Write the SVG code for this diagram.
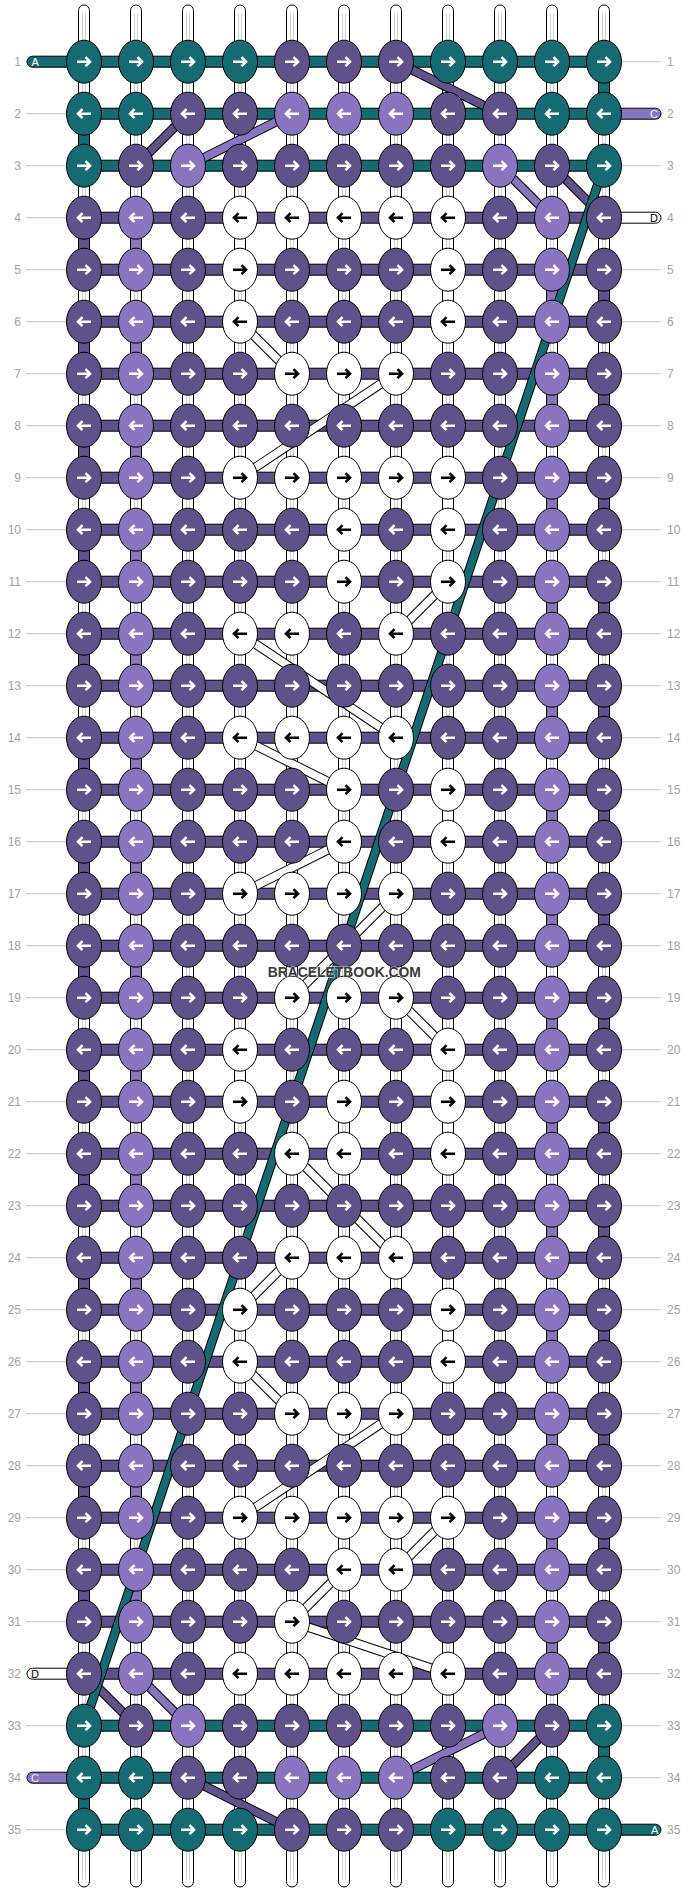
<svg xmlns="http://www.w3.org/2000/svg" width="688" height="1892" viewBox="0 0 688 1892">
<style>
text{font-family:"Liberation Sans",Arial,Helvetica,sans-serif}
.num{font-size:12px;fill:#a2a2a2}
.rl{stroke:#c4c4c4;stroke-width:1}
.wp{fill:#fff;stroke:#000;stroke-width:1}
.wl{fill:none;stroke:#cdcdcd;stroke-width:1}
.s{stroke:#000;stroke-width:1}
.t{fill:#156b71}
.p{fill:#5f5189}
.l{fill:#8a74c0}
.w{fill:#fff}
.fo{stroke:#000;stroke-width:9.5}
.ft{stroke:#156b71;stroke-width:7.5}
.fp{stroke:#5f5189;stroke-width:7.5}
.fl{stroke:#8a74c0;stroke-width:7.5}
.fw{stroke:#fff;stroke-width:7.5}
.aw{fill:none;stroke:#fff;stroke-width:2.6}
.ab{fill:none;stroke:#000;stroke-width:2.6}
.lab{font-size:11px}
.wm{font-size:15px;font-weight:bold;fill:#3a3a3a;stroke:#fff;stroke-opacity:.6;stroke-width:1.5;paint-order:stroke}
</style>
<defs>
<path id="ar" d="M-7,0H6M1.5,-4.5L6,0L1.5,4.5"/>
<path id="al" d="M7,0H-6M-1.5,-4.5L-6,0L-1.5,4.5"/>
<g id="tR"><ellipse rx="17.5" ry="21.5" class="t s"/><use href="#ar" class="aw"/></g>
<g id="tL"><ellipse rx="17.5" ry="21.5" class="t s"/><use href="#al" class="aw"/></g>
<g id="pR"><ellipse rx="17.5" ry="21.5" class="p s"/><use href="#ar" class="aw"/></g>
<g id="pL"><ellipse rx="17.5" ry="21.5" class="p s"/><use href="#al" class="aw"/></g>
<g id="lR"><ellipse rx="17.5" ry="21.5" class="l s"/><use href="#ar" class="aw"/></g>
<g id="lL"><ellipse rx="17.5" ry="21.5" class="l s"/><use href="#al" class="aw"/></g>
<g id="wR"><ellipse rx="17.5" ry="21.5" class="w s"/><use href="#ar" class="ab"/></g>
<g id="wL"><ellipse rx="17.5" ry="21.5" class="w s"/><use href="#al" class="ab"/></g>
</defs>
<rect width="688" height="1892" fill="#fff"/>
<g transform="translate(32,9.7)">
<g id="row-labels">
<path class="rl" d="M-6,52H40M584,52H629M-6,104H40M584,104H629M-6,156H40M584,156H629M-6,208H40M584,208H629M-6,260H40M584,260H629M-6,312H40M584,312H629M-6,364H40M584,364H629M-6,416H40M584,416H629M-6,468H40M584,468H629M-6,520H40M584,520H629M-6,572H40M584,572H629M-6,624H40M584,624H629M-6,676H40M584,676H629M-6,728H40M584,728H629M-6,780H40M584,780H629M-6,832H40M584,832H629M-6,884H40M584,884H629M-6,936H40M584,936H629M-6,988H40M584,988H629M-6,1040H40M584,1040H629M-6,1092H40M584,1092H629M-6,1144H40M584,1144H629M-6,1196H40M584,1196H629M-6,1248H40M584,1248H629M-6,1300H40M584,1300H629M-6,1352H40M584,1352H629M-6,1404H40M584,1404H629M-6,1456H40M584,1456H629M-6,1508H40M584,1508H629M-6,1560H40M584,1560H629M-6,1612H40M584,1612H629M-6,1664H40M584,1664H629M-6,1716H40M584,1716H629M-6,1768H40M584,1768H629M-6,1820H40M584,1820H629"/>
<g class="num" text-anchor="end">
<text x="-11" y="56.3">1</text><text x="-11" y="108.3">2</text><text x="-11" y="160.3">3</text><text x="-11" y="212.3">4</text><text x="-11" y="264.3">5</text><text x="-11" y="316.3">6</text><text x="-11" y="368.3">7</text><text x="-11" y="420.3">8</text><text x="-11" y="472.3">9</text><text x="-11" y="524.3">10</text><text x="-11" y="576.3">11</text><text x="-11" y="628.3">12</text><text x="-11" y="680.3">13</text><text x="-11" y="732.3">14</text><text x="-11" y="784.3">15</text><text x="-11" y="836.3">16</text><text x="-11" y="888.3">17</text><text x="-11" y="940.3">18</text><text x="-11" y="992.3">19</text><text x="-11" y="1044.3">20</text><text x="-11" y="1096.3">21</text><text x="-11" y="1148.3">22</text><text x="-11" y="1200.3">23</text><text x="-11" y="1252.3">24</text><text x="-11" y="1304.3">25</text><text x="-11" y="1356.3">26</text><text x="-11" y="1408.3">27</text><text x="-11" y="1460.3">28</text><text x="-11" y="1512.3">29</text><text x="-11" y="1564.3">30</text><text x="-11" y="1616.3">31</text><text x="-11" y="1668.3">32</text><text x="-11" y="1720.3">33</text><text x="-11" y="1772.3">34</text><text x="-11" y="1824.3">35</text>
</g>
<g class="num">
<text x="635" y="56.3">1</text><text x="635" y="108.3">2</text><text x="635" y="160.3">3</text><text x="635" y="212.3">4</text><text x="635" y="264.3">5</text><text x="635" y="316.3">6</text><text x="635" y="368.3">7</text><text x="635" y="420.3">8</text><text x="635" y="472.3">9</text><text x="635" y="524.3">10</text><text x="635" y="576.3">11</text><text x="635" y="628.3">12</text><text x="635" y="680.3">13</text><text x="635" y="732.3">14</text><text x="635" y="784.3">15</text><text x="635" y="836.3">16</text><text x="635" y="888.3">17</text><text x="635" y="940.3">18</text><text x="635" y="992.3">19</text><text x="635" y="1044.3">20</text><text x="635" y="1096.3">21</text><text x="635" y="1148.3">22</text><text x="635" y="1200.3">23</text><text x="635" y="1252.3">24</text><text x="635" y="1304.3">25</text><text x="635" y="1356.3">26</text><text x="635" y="1408.3">27</text><text x="635" y="1460.3">28</text><text x="635" y="1512.3">29</text><text x="635" y="1564.3">30</text><text x="635" y="1616.3">31</text><text x="635" y="1668.3">32</text><text x="635" y="1720.3">33</text><text x="635" y="1772.3">34</text><text x="635" y="1824.3">35</text>
</g>
</g>
<g id="connectors">
<g id="warps">
<rect class="wp" x="46.5" y="-4.7" width="11" height="1882" rx="5.5"/>
<rect class="wp" x="98.5" y="-4.7" width="11" height="1882" rx="5.5"/>
<rect class="wp" x="150.5" y="-4.7" width="11" height="1882" rx="5.5"/>
<rect class="wp" x="202.5" y="-4.7" width="11" height="1882" rx="5.5"/>
<rect class="wp" x="254.5" y="-4.7" width="11" height="1882" rx="5.5"/>
<rect class="wp" x="306.5" y="-4.7" width="11" height="1882" rx="5.5"/>
<rect class="wp" x="358.5" y="-4.7" width="11" height="1882" rx="5.5"/>
<rect class="wp" x="410.5" y="-4.7" width="11" height="1882" rx="5.5"/>
<rect class="wp" x="462.5" y="-4.7" width="11" height="1882" rx="5.5"/>
<rect class="wp" x="514.5" y="-4.7" width="11" height="1882" rx="5.5"/>
<rect class="wp" x="566.5" y="-4.7" width="11" height="1882" rx="5.5"/>
<path class="wl" d="M50.5,3V1870M53.5,3V1870M102.5,3V1870M105.5,3V1870M154.5,3V1870M157.5,3V1870M206.5,3V1870M209.5,3V1870M258.5,3V1870M261.5,3V1870M310.5,3V1870M313.5,3V1870M362.5,3V1870M365.5,3V1870M414.5,3V1870M417.5,3V1870M466.5,3V1870M469.5,3V1870M518.5,3V1870M521.5,3V1870M570.5,3V1870M573.5,3V1870"/>
</g>
<g id="row-threads">
<rect class="t s" x="-5" y="46.5" width="577" height="11" rx="5.5"/>
<rect class="t s" x="52" y="98.5" width="520" height="11"/>
<rect class="l s" x="560" y="98.5" width="69" height="11" rx="5.5"/>
<rect class="t s" x="52" y="150.5" width="520" height="11"/>
<rect class="p s" x="52" y="202.5" width="520" height="11"/>
<rect class="w s" x="560" y="202.5" width="69" height="11" rx="5.5"/>
<rect class="p s" x="52" y="254.5" width="520" height="11"/>
<rect class="p s" x="52" y="306.5" width="520" height="11"/>
<rect class="p s" x="52" y="358.5" width="520" height="11"/>
<rect class="p s" x="52" y="410.5" width="520" height="11"/>
<rect class="p s" x="52" y="462.5" width="520" height="11"/>
<rect class="p s" x="52" y="514.5" width="520" height="11"/>
<rect class="p s" x="52" y="566.5" width="520" height="11"/>
<rect class="p s" x="52" y="618.5" width="520" height="11"/>
<rect class="p s" x="52" y="670.5" width="520" height="11"/>
<rect class="p s" x="52" y="722.5" width="520" height="11"/>
<rect class="p s" x="52" y="774.5" width="520" height="11"/>
<rect class="p s" x="52" y="826.5" width="520" height="11"/>
<rect class="p s" x="52" y="878.5" width="520" height="11"/>
<rect class="p s" x="52" y="930.5" width="520" height="11"/>
<rect class="p s" x="52" y="982.5" width="520" height="11"/>
<rect class="p s" x="52" y="1034.5" width="520" height="11"/>
<rect class="p s" x="52" y="1086.5" width="520" height="11"/>
<rect class="p s" x="52" y="1138.5" width="520" height="11"/>
<rect class="p s" x="52" y="1190.5" width="520" height="11"/>
<rect class="p s" x="52" y="1242.5" width="520" height="11"/>
<rect class="p s" x="52" y="1294.5" width="520" height="11"/>
<rect class="p s" x="52" y="1346.5" width="520" height="11"/>
<rect class="p s" x="52" y="1398.5" width="520" height="11"/>
<rect class="p s" x="52" y="1450.5" width="520" height="11"/>
<rect class="p s" x="52" y="1502.5" width="520" height="11"/>
<rect class="p s" x="52" y="1554.5" width="520" height="11"/>
<rect class="p s" x="52" y="1606.5" width="520" height="11"/>
<rect class="w s" x="-5" y="1658.5" width="65" height="11" rx="5.5"/>
<rect class="p s" x="52" y="1658.5" width="520" height="11"/>
<rect class="t s" x="52" y="1710.5" width="520" height="11"/>
<rect class="l s" x="-5" y="1762.5" width="65" height="11" rx="5.5"/>
<rect class="t s" x="52" y="1762.5" width="520" height="11"/>
<rect class="t s" x="52" y="1814.5" width="577" height="11" rx="5.5"/>
</g>
<g id="vertical-moves">
<rect class="t s" x="566.5" y="52" width="11" height="52"/>
<rect class="t s" x="46.5" y="104" width="11" height="52"/>
<rect class="t s" x="566.5" y="1716" width="11" height="52"/>
<rect class="t s" x="46.5" y="1768" width="11" height="52"/>
<rect class="p s" x="46.5" y="208" width="11" height="52"/><rect class="p s" x="46.5" y="312" width="11" height="52"/><rect class="p s" x="46.5" y="416" width="11" height="52"/><rect class="p s" x="46.5" y="520" width="11" height="52"/><rect class="p s" x="46.5" y="624" width="11" height="52"/><rect class="p s" x="46.5" y="728" width="11" height="52"/><rect class="p s" x="46.5" y="832" width="11" height="52"/><rect class="p s" x="46.5" y="936" width="11" height="52"/><rect class="p s" x="46.5" y="1040" width="11" height="52"/><rect class="p s" x="46.5" y="1144" width="11" height="52"/><rect class="p s" x="46.5" y="1248" width="11" height="52"/><rect class="p s" x="46.5" y="1352" width="11" height="52"/><rect class="p s" x="46.5" y="1456" width="11" height="52"/><rect class="p s" x="46.5" y="1560" width="11" height="52"/>
<rect class="l s" x="98.5" y="208" width="11" height="52"/><rect class="l s" x="98.5" y="312" width="11" height="52"/><rect class="l s" x="98.5" y="416" width="11" height="52"/><rect class="l s" x="98.5" y="520" width="11" height="52"/><rect class="l s" x="98.5" y="624" width="11" height="52"/><rect class="l s" x="98.5" y="728" width="11" height="52"/><rect class="l s" x="98.5" y="832" width="11" height="52"/><rect class="l s" x="98.5" y="936" width="11" height="52"/><rect class="l s" x="98.5" y="1040" width="11" height="52"/><rect class="l s" x="98.5" y="1144" width="11" height="52"/><rect class="l s" x="98.5" y="1248" width="11" height="52"/><rect class="l s" x="98.5" y="1352" width="11" height="52"/><rect class="l s" x="98.5" y="1456" width="11" height="52"/><rect class="l s" x="98.5" y="1560" width="11" height="52"/>
<rect class="p s" x="566.5" y="260" width="11" height="52"/><rect class="p s" x="566.5" y="364" width="11" height="52"/><rect class="p s" x="566.5" y="468" width="11" height="52"/><rect class="p s" x="566.5" y="572" width="11" height="52"/><rect class="p s" x="566.5" y="676" width="11" height="52"/><rect class="p s" x="566.5" y="780" width="11" height="52"/><rect class="p s" x="566.5" y="884" width="11" height="52"/><rect class="p s" x="566.5" y="988" width="11" height="52"/><rect class="p s" x="566.5" y="1092" width="11" height="52"/><rect class="p s" x="566.5" y="1196" width="11" height="52"/><rect class="p s" x="566.5" y="1300" width="11" height="52"/><rect class="p s" x="566.5" y="1404" width="11" height="52"/><rect class="p s" x="566.5" y="1508" width="11" height="52"/><rect class="p s" x="566.5" y="1612" width="11" height="52"/>
<rect class="l s" x="514.5" y="260" width="11" height="52"/><rect class="l s" x="514.5" y="364" width="11" height="52"/><rect class="l s" x="514.5" y="468" width="11" height="52"/><rect class="l s" x="514.5" y="572" width="11" height="52"/><rect class="l s" x="514.5" y="676" width="11" height="52"/><rect class="l s" x="514.5" y="780" width="11" height="52"/><rect class="l s" x="514.5" y="884" width="11" height="52"/><rect class="l s" x="514.5" y="988" width="11" height="52"/><rect class="l s" x="514.5" y="1092" width="11" height="52"/><rect class="l s" x="514.5" y="1196" width="11" height="52"/><rect class="l s" x="514.5" y="1300" width="11" height="52"/><rect class="l s" x="514.5" y="1404" width="11" height="52"/><rect class="l s" x="514.5" y="1508" width="11" height="52"/><rect class="l s" x="514.5" y="1612" width="11" height="52"/>
<rect class="w s" x="202.5" y="208" width="11" height="52"/><rect class="w s" x="410.5" y="260" width="11" height="52"/><rect class="w s" x="410.5" y="468" width="11" height="52"/><rect class="w s" x="306.5" y="520" width="11" height="52"/><rect class="w s" x="410.5" y="780" width="11" height="52"/><rect class="w s" x="202.5" y="1040" width="11" height="52"/><rect class="w s" x="410.5" y="1092" width="11" height="52"/><rect class="w s" x="410.5" y="1300" width="11" height="52"/>
</g>
<g id="floats">
<g><line class="fo" x1="364" y1="52" x2="468" y2="104"/><line class="fp" x1="364" y1="52" x2="468" y2="104"/></g>
<g><line class="fo" x1="156" y1="104" x2="104" y2="156"/><line class="fp" x1="156" y1="104" x2="104" y2="156"/></g>
<g><line class="fo" x1="260" y1="104" x2="156" y2="156"/><line class="fl" x1="260" y1="104" x2="156" y2="156"/></g>
<g><line class="fo" x1="468" y1="156" x2="520" y2="208"/><line class="fl" x1="468" y1="156" x2="520" y2="208"/></g>
<g><line class="fo" x1="520" y1="156" x2="572" y2="208"/><line class="fp" x1="520" y1="156" x2="572" y2="208"/></g>
<g><line class="fo" x1="208" y1="312" x2="260" y2="364"/><line class="fw" x1="208" y1="312" x2="260" y2="364"/></g>
<g><line class="fo" x1="364" y1="364" x2="208" y2="468"/><line class="fw" x1="364" y1="364" x2="208" y2="468"/></g>
<g><line class="fo" x1="416" y1="572" x2="364" y2="624"/><line class="fw" x1="416" y1="572" x2="364" y2="624"/></g>
<g><line class="fo" x1="208" y1="624" x2="364" y2="728"/><line class="fw" x1="208" y1="624" x2="364" y2="728"/></g>
<g><line class="fo" x1="208" y1="728" x2="312" y2="780"/><line class="fw" x1="208" y1="728" x2="312" y2="780"/></g>
<g><line class="fo" x1="312" y1="832" x2="208" y2="884"/><line class="fw" x1="312" y1="832" x2="208" y2="884"/></g>
<g><line class="fo" x1="364" y1="884" x2="260" y2="988"/><line class="fw" x1="364" y1="884" x2="260" y2="988"/></g>
<g><line class="fo" x1="364" y1="988" x2="416" y2="1040"/><line class="fw" x1="364" y1="988" x2="416" y2="1040"/></g>
<g><line class="fo" x1="260" y1="1144" x2="364" y2="1248"/><line class="fw" x1="260" y1="1144" x2="364" y2="1248"/></g>
<g><line class="fo" x1="260" y1="1248" x2="208" y2="1300"/><line class="fw" x1="260" y1="1248" x2="208" y2="1300"/></g>
<g><line class="fo" x1="208" y1="1352" x2="260" y2="1404"/><line class="fw" x1="208" y1="1352" x2="260" y2="1404"/></g>
<g><line class="fo" x1="364" y1="1404" x2="208" y2="1508"/><line class="fw" x1="364" y1="1404" x2="208" y2="1508"/></g>
<g><line class="fo" x1="416" y1="1508" x2="364" y2="1560"/><line class="fw" x1="416" y1="1508" x2="364" y2="1560"/></g>
<g><line class="fo" x1="312" y1="1560" x2="260" y2="1612"/><line class="fw" x1="312" y1="1560" x2="260" y2="1612"/></g>
<g><line class="fo" x1="260" y1="1612" x2="416" y2="1664"/><line class="fw" x1="260" y1="1612" x2="416" y2="1664"/></g>
<g><line class="fo" x1="52" y1="1664" x2="104" y2="1716"/><line class="fp" x1="52" y1="1664" x2="104" y2="1716"/></g>
<g><line class="fo" x1="104" y1="1664" x2="156" y2="1716"/><line class="fl" x1="104" y1="1664" x2="156" y2="1716"/></g>
<g><line class="fo" x1="468" y1="1716" x2="364" y2="1768"/><line class="fl" x1="468" y1="1716" x2="364" y2="1768"/></g>
<g><line class="fo" x1="520" y1="1716" x2="468" y2="1768"/><line class="fp" x1="520" y1="1716" x2="468" y2="1768"/></g>
<g><line class="fo" x1="156" y1="1768" x2="260" y2="1820"/><line class="fp" x1="156" y1="1768" x2="260" y2="1820"/></g>
<g><line class="fo" x1="572" y1="156" x2="52" y2="1716"/><line class="ft" x1="572" y1="156" x2="52" y2="1716"/></g>
</g>
</g>
<g id="thread-ends" class="lab">
<text x="-0.5" y="56.3" fill="#fff">A</text>
<text x="618" y="108.3" fill="#efeaff">C</text>
<text x="618" y="212.3" fill="#000">D</text>
<text x="-1" y="1668.3" fill="#000">D</text>
<text x="-1" y="1772.3" fill="#f4f0ff">C</text>
<text x="619" y="1824.3" fill="#eaffff">A</text>
</g>
<g id="nodes">
<g id="row1" transform="translate(0,52)"><g id="n1-1"><use href="#tR" x="52"/></g><g id="n1-2"><use href="#tR" x="104"/></g><g id="n1-3"><use href="#tR" x="156"/></g><g id="n1-4"><use href="#tR" x="208"/></g><g id="n1-5"><use href="#pR" x="260"/></g><g id="n1-6"><use href="#pR" x="312"/></g><g id="n1-7"><use href="#pR" x="364"/></g><g id="n1-8"><use href="#tR" x="416"/></g><g id="n1-9"><use href="#tR" x="468"/></g><g id="n1-10"><use href="#tR" x="520"/></g><g id="n1-11"><use href="#tR" x="572"/></g></g>
<g id="row2" transform="translate(0,104)"><g id="n2-1"><use href="#tL" x="52"/></g><g id="n2-2"><use href="#tL" x="104"/></g><g id="n2-3"><use href="#pL" x="156"/></g><g id="n2-4"><use href="#pL" x="208"/></g><g id="n2-5"><use href="#lL" x="260"/></g><g id="n2-6"><use href="#lL" x="312"/></g><g id="n2-7"><use href="#lL" x="364"/></g><g id="n2-8"><use href="#pL" x="416"/></g><g id="n2-9"><use href="#pL" x="468"/></g><g id="n2-10"><use href="#tL" x="520"/></g><g id="n2-11"><use href="#tL" x="572"/></g></g>
<g id="row3" transform="translate(0,156)"><g id="n3-1"><use href="#tR" x="52"/></g><g id="n3-2"><use href="#pR" x="104"/></g><g id="n3-3"><use href="#lR" x="156"/></g><g id="n3-4"><use href="#pR" x="208"/></g><g id="n3-5"><use href="#pR" x="260"/></g><g id="n3-6"><use href="#pR" x="312"/></g><g id="n3-7"><use href="#pR" x="364"/></g><g id="n3-8"><use href="#pR" x="416"/></g><g id="n3-9"><use href="#lR" x="468"/></g><g id="n3-10"><use href="#pR" x="520"/></g><g id="n3-11"><use href="#tR" x="572"/></g></g>
<g id="row4" transform="translate(0,208)"><g id="n4-1"><use href="#pL" x="52"/></g><g id="n4-2"><use href="#lL" x="104"/></g><g id="n4-3"><use href="#pL" x="156"/></g><g id="n4-4"><use href="#wL" x="208"/></g><g id="n4-5"><use href="#wL" x="260"/></g><g id="n4-6"><use href="#wL" x="312"/></g><g id="n4-7"><use href="#wL" x="364"/></g><g id="n4-8"><use href="#wL" x="416"/></g><g id="n4-9"><use href="#pL" x="468"/></g><g id="n4-10"><use href="#lL" x="520"/></g><g id="n4-11"><use href="#pL" x="572"/></g></g>
<g id="row5" transform="translate(0,260)"><g id="n5-1"><use href="#pR" x="52"/></g><g id="n5-2"><use href="#lR" x="104"/></g><g id="n5-3"><use href="#pR" x="156"/></g><g id="n5-4"><use href="#wR" x="208"/></g><g id="n5-5"><use href="#pR" x="260"/></g><g id="n5-6"><use href="#pR" x="312"/></g><g id="n5-7"><use href="#pR" x="364"/></g><g id="n5-8"><use href="#wR" x="416"/></g><g id="n5-9"><use href="#pR" x="468"/></g><g id="n5-10"><use href="#lR" x="520"/></g><g id="n5-11"><use href="#pR" x="572"/></g></g>
<g id="row6" transform="translate(0,312)"><g id="n6-1"><use href="#pL" x="52"/></g><g id="n6-2"><use href="#lL" x="104"/></g><g id="n6-3"><use href="#pL" x="156"/></g><g id="n6-4"><use href="#wL" x="208"/></g><g id="n6-5"><use href="#pL" x="260"/></g><g id="n6-6"><use href="#pL" x="312"/></g><g id="n6-7"><use href="#pL" x="364"/></g><g id="n6-8"><use href="#wL" x="416"/></g><g id="n6-9"><use href="#pL" x="468"/></g><g id="n6-10"><use href="#lL" x="520"/></g><g id="n6-11"><use href="#pL" x="572"/></g></g>
<g id="row7" transform="translate(0,364)"><g id="n7-1"><use href="#pR" x="52"/></g><g id="n7-2"><use href="#lR" x="104"/></g><g id="n7-3"><use href="#pR" x="156"/></g><g id="n7-4"><use href="#pR" x="208"/></g><g id="n7-5"><use href="#wR" x="260"/></g><g id="n7-6"><use href="#wR" x="312"/></g><g id="n7-7"><use href="#wR" x="364"/></g><g id="n7-8"><use href="#pR" x="416"/></g><g id="n7-9"><use href="#pR" x="468"/></g><g id="n7-10"><use href="#lR" x="520"/></g><g id="n7-11"><use href="#pR" x="572"/></g></g>
<g id="row8" transform="translate(0,416)"><g id="n8-1"><use href="#pL" x="52"/></g><g id="n8-2"><use href="#lL" x="104"/></g><g id="n8-3"><use href="#pL" x="156"/></g><g id="n8-4"><use href="#pL" x="208"/></g><g id="n8-5"><use href="#pL" x="260"/></g><g id="n8-6"><use href="#pL" x="312"/></g><g id="n8-7"><use href="#pL" x="364"/></g><g id="n8-8"><use href="#pL" x="416"/></g><g id="n8-9"><use href="#pL" x="468"/></g><g id="n8-10"><use href="#lL" x="520"/></g><g id="n8-11"><use href="#pL" x="572"/></g></g>
<g id="row9" transform="translate(0,468)"><g id="n9-1"><use href="#pR" x="52"/></g><g id="n9-2"><use href="#lR" x="104"/></g><g id="n9-3"><use href="#pR" x="156"/></g><g id="n9-4"><use href="#wR" x="208"/></g><g id="n9-5"><use href="#wR" x="260"/></g><g id="n9-6"><use href="#wR" x="312"/></g><g id="n9-7"><use href="#wR" x="364"/></g><g id="n9-8"><use href="#wR" x="416"/></g><g id="n9-9"><use href="#pR" x="468"/></g><g id="n9-10"><use href="#lR" x="520"/></g><g id="n9-11"><use href="#pR" x="572"/></g></g>
<g id="row10" transform="translate(0,520)"><g id="n10-1"><use href="#pL" x="52"/></g><g id="n10-2"><use href="#lL" x="104"/></g><g id="n10-3"><use href="#pL" x="156"/></g><g id="n10-4"><use href="#pL" x="208"/></g><g id="n10-5"><use href="#pL" x="260"/></g><g id="n10-6"><use href="#wL" x="312"/></g><g id="n10-7"><use href="#pL" x="364"/></g><g id="n10-8"><use href="#wL" x="416"/></g><g id="n10-9"><use href="#pL" x="468"/></g><g id="n10-10"><use href="#lL" x="520"/></g><g id="n10-11"><use href="#pL" x="572"/></g></g>
<g id="row11" transform="translate(0,572)"><g id="n11-1"><use href="#pR" x="52"/></g><g id="n11-2"><use href="#lR" x="104"/></g><g id="n11-3"><use href="#pR" x="156"/></g><g id="n11-4"><use href="#pR" x="208"/></g><g id="n11-5"><use href="#pR" x="260"/></g><g id="n11-6"><use href="#wR" x="312"/></g><g id="n11-7"><use href="#pR" x="364"/></g><g id="n11-8"><use href="#wR" x="416"/></g><g id="n11-9"><use href="#pR" x="468"/></g><g id="n11-10"><use href="#lR" x="520"/></g><g id="n11-11"><use href="#pR" x="572"/></g></g>
<g id="row12" transform="translate(0,624)"><g id="n12-1"><use href="#pL" x="52"/></g><g id="n12-2"><use href="#lL" x="104"/></g><g id="n12-3"><use href="#pL" x="156"/></g><g id="n12-4"><use href="#wL" x="208"/></g><g id="n12-5"><use href="#wL" x="260"/></g><g id="n12-6"><use href="#pL" x="312"/></g><g id="n12-7"><use href="#wL" x="364"/></g><g id="n12-8"><use href="#pL" x="416"/></g><g id="n12-9"><use href="#pL" x="468"/></g><g id="n12-10"><use href="#lL" x="520"/></g><g id="n12-11"><use href="#pL" x="572"/></g></g>
<g id="row13" transform="translate(0,676)"><g id="n13-1"><use href="#pR" x="52"/></g><g id="n13-2"><use href="#lR" x="104"/></g><g id="n13-3"><use href="#pR" x="156"/></g><g id="n13-4"><use href="#pR" x="208"/></g><g id="n13-5"><use href="#pR" x="260"/></g><g id="n13-6"><use href="#pR" x="312"/></g><g id="n13-7"><use href="#pR" x="364"/></g><g id="n13-8"><use href="#pR" x="416"/></g><g id="n13-9"><use href="#pR" x="468"/></g><g id="n13-10"><use href="#lR" x="520"/></g><g id="n13-11"><use href="#pR" x="572"/></g></g>
<g id="row14" transform="translate(0,728)"><g id="n14-1"><use href="#pL" x="52"/></g><g id="n14-2"><use href="#lL" x="104"/></g><g id="n14-3"><use href="#pL" x="156"/></g><g id="n14-4"><use href="#wL" x="208"/></g><g id="n14-5"><use href="#wL" x="260"/></g><g id="n14-6"><use href="#wL" x="312"/></g><g id="n14-7"><use href="#wL" x="364"/></g><g id="n14-8"><use href="#pL" x="416"/></g><g id="n14-9"><use href="#pL" x="468"/></g><g id="n14-10"><use href="#lL" x="520"/></g><g id="n14-11"><use href="#pL" x="572"/></g></g>
<g id="row15" transform="translate(0,780)"><g id="n15-1"><use href="#pR" x="52"/></g><g id="n15-2"><use href="#lR" x="104"/></g><g id="n15-3"><use href="#pR" x="156"/></g><g id="n15-4"><use href="#pR" x="208"/></g><g id="n15-5"><use href="#pR" x="260"/></g><g id="n15-6"><use href="#wR" x="312"/></g><g id="n15-7"><use href="#pR" x="364"/></g><g id="n15-8"><use href="#wR" x="416"/></g><g id="n15-9"><use href="#pR" x="468"/></g><g id="n15-10"><use href="#lR" x="520"/></g><g id="n15-11"><use href="#pR" x="572"/></g></g>
<g id="row16" transform="translate(0,832)"><g id="n16-1"><use href="#pL" x="52"/></g><g id="n16-2"><use href="#lL" x="104"/></g><g id="n16-3"><use href="#pL" x="156"/></g><g id="n16-4"><use href="#pL" x="208"/></g><g id="n16-5"><use href="#pL" x="260"/></g><g id="n16-6"><use href="#wL" x="312"/></g><g id="n16-7"><use href="#pL" x="364"/></g><g id="n16-8"><use href="#wL" x="416"/></g><g id="n16-9"><use href="#pL" x="468"/></g><g id="n16-10"><use href="#lL" x="520"/></g><g id="n16-11"><use href="#pL" x="572"/></g></g>
<g id="row17" transform="translate(0,884)"><g id="n17-1"><use href="#pR" x="52"/></g><g id="n17-2"><use href="#lR" x="104"/></g><g id="n17-3"><use href="#pR" x="156"/></g><g id="n17-4"><use href="#wR" x="208"/></g><g id="n17-5"><use href="#wR" x="260"/></g><g id="n17-6"><use href="#wR" x="312"/></g><g id="n17-7"><use href="#wR" x="364"/></g><g id="n17-8"><use href="#pR" x="416"/></g><g id="n17-9"><use href="#pR" x="468"/></g><g id="n17-10"><use href="#lR" x="520"/></g><g id="n17-11"><use href="#pR" x="572"/></g></g>
<g id="row18" transform="translate(0,936)"><g id="n18-1"><use href="#pL" x="52"/></g><g id="n18-2"><use href="#lL" x="104"/></g><g id="n18-3"><use href="#pL" x="156"/></g><g id="n18-4"><use href="#pL" x="208"/></g><g id="n18-5"><use href="#pL" x="260"/></g><g id="n18-6"><use href="#pL" x="312"/></g><g id="n18-7"><use href="#pL" x="364"/></g><g id="n18-8"><use href="#pL" x="416"/></g><g id="n18-9"><use href="#pL" x="468"/></g><g id="n18-10"><use href="#lL" x="520"/></g><g id="n18-11"><use href="#pL" x="572"/></g></g>
<g id="row19" transform="translate(0,988)"><g id="n19-1"><use href="#pR" x="52"/></g><g id="n19-2"><use href="#lR" x="104"/></g><g id="n19-3"><use href="#pR" x="156"/></g><g id="n19-4"><use href="#pR" x="208"/></g><g id="n19-5"><use href="#wR" x="260"/></g><g id="n19-6"><use href="#wR" x="312"/></g><g id="n19-7"><use href="#wR" x="364"/></g><g id="n19-8"><use href="#pR" x="416"/></g><g id="n19-9"><use href="#pR" x="468"/></g><g id="n19-10"><use href="#lR" x="520"/></g><g id="n19-11"><use href="#pR" x="572"/></g></g>
<g id="row20" transform="translate(0,1040)"><g id="n20-1"><use href="#pL" x="52"/></g><g id="n20-2"><use href="#lL" x="104"/></g><g id="n20-3"><use href="#pL" x="156"/></g><g id="n20-4"><use href="#wL" x="208"/></g><g id="n20-5"><use href="#pL" x="260"/></g><g id="n20-6"><use href="#pL" x="312"/></g><g id="n20-7"><use href="#pL" x="364"/></g><g id="n20-8"><use href="#wL" x="416"/></g><g id="n20-9"><use href="#pL" x="468"/></g><g id="n20-10"><use href="#lL" x="520"/></g><g id="n20-11"><use href="#pL" x="572"/></g></g>
<g id="row21" transform="translate(0,1092)"><g id="n21-1"><use href="#pR" x="52"/></g><g id="n21-2"><use href="#lR" x="104"/></g><g id="n21-3"><use href="#pR" x="156"/></g><g id="n21-4"><use href="#wR" x="208"/></g><g id="n21-5"><use href="#pR" x="260"/></g><g id="n21-6"><use href="#wR" x="312"/></g><g id="n21-7"><use href="#pR" x="364"/></g><g id="n21-8"><use href="#wR" x="416"/></g><g id="n21-9"><use href="#pR" x="468"/></g><g id="n21-10"><use href="#lR" x="520"/></g><g id="n21-11"><use href="#pR" x="572"/></g></g>
<g id="row22" transform="translate(0,1144)"><g id="n22-1"><use href="#pL" x="52"/></g><g id="n22-2"><use href="#lL" x="104"/></g><g id="n22-3"><use href="#pL" x="156"/></g><g id="n22-4"><use href="#pL" x="208"/></g><g id="n22-5"><use href="#wL" x="260"/></g><g id="n22-6"><use href="#wL" x="312"/></g><g id="n22-7"><use href="#pL" x="364"/></g><g id="n22-8"><use href="#wL" x="416"/></g><g id="n22-9"><use href="#pL" x="468"/></g><g id="n22-10"><use href="#lL" x="520"/></g><g id="n22-11"><use href="#pL" x="572"/></g></g>
<g id="row23" transform="translate(0,1196)"><g id="n23-1"><use href="#pR" x="52"/></g><g id="n23-2"><use href="#lR" x="104"/></g><g id="n23-3"><use href="#pR" x="156"/></g><g id="n23-4"><use href="#pR" x="208"/></g><g id="n23-5"><use href="#pR" x="260"/></g><g id="n23-6"><use href="#pR" x="312"/></g><g id="n23-7"><use href="#pR" x="364"/></g><g id="n23-8"><use href="#pR" x="416"/></g><g id="n23-9"><use href="#pR" x="468"/></g><g id="n23-10"><use href="#lR" x="520"/></g><g id="n23-11"><use href="#pR" x="572"/></g></g>
<g id="row24" transform="translate(0,1248)"><g id="n24-1"><use href="#pL" x="52"/></g><g id="n24-2"><use href="#lL" x="104"/></g><g id="n24-3"><use href="#pL" x="156"/></g><g id="n24-4"><use href="#pL" x="208"/></g><g id="n24-5"><use href="#wL" x="260"/></g><g id="n24-6"><use href="#wL" x="312"/></g><g id="n24-7"><use href="#wL" x="364"/></g><g id="n24-8"><use href="#pL" x="416"/></g><g id="n24-9"><use href="#pL" x="468"/></g><g id="n24-10"><use href="#lL" x="520"/></g><g id="n24-11"><use href="#pL" x="572"/></g></g>
<g id="row25" transform="translate(0,1300)"><g id="n25-1"><use href="#pR" x="52"/></g><g id="n25-2"><use href="#lR" x="104"/></g><g id="n25-3"><use href="#pR" x="156"/></g><g id="n25-4"><use href="#wR" x="208"/></g><g id="n25-5"><use href="#pR" x="260"/></g><g id="n25-6"><use href="#pR" x="312"/></g><g id="n25-7"><use href="#pR" x="364"/></g><g id="n25-8"><use href="#wR" x="416"/></g><g id="n25-9"><use href="#pR" x="468"/></g><g id="n25-10"><use href="#lR" x="520"/></g><g id="n25-11"><use href="#pR" x="572"/></g></g>
<g id="row26" transform="translate(0,1352)"><g id="n26-1"><use href="#pL" x="52"/></g><g id="n26-2"><use href="#lL" x="104"/></g><g id="n26-3"><use href="#pL" x="156"/></g><g id="n26-4"><use href="#wL" x="208"/></g><g id="n26-5"><use href="#pL" x="260"/></g><g id="n26-6"><use href="#pL" x="312"/></g><g id="n26-7"><use href="#pL" x="364"/></g><g id="n26-8"><use href="#wL" x="416"/></g><g id="n26-9"><use href="#pL" x="468"/></g><g id="n26-10"><use href="#lL" x="520"/></g><g id="n26-11"><use href="#pL" x="572"/></g></g>
<g id="row27" transform="translate(0,1404)"><g id="n27-1"><use href="#pR" x="52"/></g><g id="n27-2"><use href="#lR" x="104"/></g><g id="n27-3"><use href="#pR" x="156"/></g><g id="n27-4"><use href="#pR" x="208"/></g><g id="n27-5"><use href="#wR" x="260"/></g><g id="n27-6"><use href="#wR" x="312"/></g><g id="n27-7"><use href="#wR" x="364"/></g><g id="n27-8"><use href="#pR" x="416"/></g><g id="n27-9"><use href="#pR" x="468"/></g><g id="n27-10"><use href="#lR" x="520"/></g><g id="n27-11"><use href="#pR" x="572"/></g></g>
<g id="row28" transform="translate(0,1456)"><g id="n28-1"><use href="#pL" x="52"/></g><g id="n28-2"><use href="#lL" x="104"/></g><g id="n28-3"><use href="#pL" x="156"/></g><g id="n28-4"><use href="#pL" x="208"/></g><g id="n28-5"><use href="#pL" x="260"/></g><g id="n28-6"><use href="#pL" x="312"/></g><g id="n28-7"><use href="#pL" x="364"/></g><g id="n28-8"><use href="#pL" x="416"/></g><g id="n28-9"><use href="#pL" x="468"/></g><g id="n28-10"><use href="#lL" x="520"/></g><g id="n28-11"><use href="#pL" x="572"/></g></g>
<g id="row29" transform="translate(0,1508)"><g id="n29-1"><use href="#pR" x="52"/></g><g id="n29-2"><use href="#lR" x="104"/></g><g id="n29-3"><use href="#pR" x="156"/></g><g id="n29-4"><use href="#wR" x="208"/></g><g id="n29-5"><use href="#wR" x="260"/></g><g id="n29-6"><use href="#wR" x="312"/></g><g id="n29-7"><use href="#wR" x="364"/></g><g id="n29-8"><use href="#wR" x="416"/></g><g id="n29-9"><use href="#pR" x="468"/></g><g id="n29-10"><use href="#lR" x="520"/></g><g id="n29-11"><use href="#pR" x="572"/></g></g>
<g id="row30" transform="translate(0,1560)"><g id="n30-1"><use href="#pL" x="52"/></g><g id="n30-2"><use href="#lL" x="104"/></g><g id="n30-3"><use href="#pL" x="156"/></g><g id="n30-4"><use href="#pL" x="208"/></g><g id="n30-5"><use href="#pL" x="260"/></g><g id="n30-6"><use href="#wL" x="312"/></g><g id="n30-7"><use href="#wL" x="364"/></g><g id="n30-8"><use href="#pL" x="416"/></g><g id="n30-9"><use href="#pL" x="468"/></g><g id="n30-10"><use href="#lL" x="520"/></g><g id="n30-11"><use href="#pL" x="572"/></g></g>
<g id="row31" transform="translate(0,1612)"><g id="n31-1"><use href="#pR" x="52"/></g><g id="n31-2"><use href="#lR" x="104"/></g><g id="n31-3"><use href="#pR" x="156"/></g><g id="n31-4"><use href="#pR" x="208"/></g><g id="n31-5"><use href="#wR" x="260"/></g><g id="n31-6"><use href="#pR" x="312"/></g><g id="n31-7"><use href="#pR" x="364"/></g><g id="n31-8"><use href="#pR" x="416"/></g><g id="n31-9"><use href="#pR" x="468"/></g><g id="n31-10"><use href="#lR" x="520"/></g><g id="n31-11"><use href="#pR" x="572"/></g></g>
<g id="row32" transform="translate(0,1664)"><g id="n32-1"><use href="#pL" x="52"/></g><g id="n32-2"><use href="#lL" x="104"/></g><g id="n32-3"><use href="#pL" x="156"/></g><g id="n32-4"><use href="#wL" x="208"/></g><g id="n32-5"><use href="#wL" x="260"/></g><g id="n32-6"><use href="#wL" x="312"/></g><g id="n32-7"><use href="#wL" x="364"/></g><g id="n32-8"><use href="#wL" x="416"/></g><g id="n32-9"><use href="#pL" x="468"/></g><g id="n32-10"><use href="#lL" x="520"/></g><g id="n32-11"><use href="#pL" x="572"/></g></g>
<g id="row33" transform="translate(0,1716)"><g id="n33-1"><use href="#tR" x="52"/></g><g id="n33-2"><use href="#pR" x="104"/></g><g id="n33-3"><use href="#lR" x="156"/></g><g id="n33-4"><use href="#pR" x="208"/></g><g id="n33-5"><use href="#pR" x="260"/></g><g id="n33-6"><use href="#pR" x="312"/></g><g id="n33-7"><use href="#pR" x="364"/></g><g id="n33-8"><use href="#pR" x="416"/></g><g id="n33-9"><use href="#lR" x="468"/></g><g id="n33-10"><use href="#pR" x="520"/></g><g id="n33-11"><use href="#tR" x="572"/></g></g>
<g id="row34" transform="translate(0,1768)"><g id="n34-1"><use href="#tL" x="52"/></g><g id="n34-2"><use href="#tL" x="104"/></g><g id="n34-3"><use href="#pL" x="156"/></g><g id="n34-4"><use href="#pL" x="208"/></g><g id="n34-5"><use href="#lL" x="260"/></g><g id="n34-6"><use href="#lL" x="312"/></g><g id="n34-7"><use href="#lL" x="364"/></g><g id="n34-8"><use href="#pL" x="416"/></g><g id="n34-9"><use href="#pL" x="468"/></g><g id="n34-10"><use href="#tL" x="520"/></g><g id="n34-11"><use href="#tL" x="572"/></g></g>
<g id="row35" transform="translate(0,1820)"><g id="n35-1"><use href="#tR" x="52"/></g><g id="n35-2"><use href="#tR" x="104"/></g><g id="n35-3"><use href="#tR" x="156"/></g><g id="n35-4"><use href="#tR" x="208"/></g><g id="n35-5"><use href="#pR" x="260"/></g><g id="n35-6"><use href="#pR" x="312"/></g><g id="n35-7"><use href="#pR" x="364"/></g><g id="n35-8"><use href="#tR" x="416"/></g><g id="n35-9"><use href="#tR" x="468"/></g><g id="n35-10"><use href="#tR" x="520"/></g><g id="n35-11"><use href="#tR" x="572"/></g></g>
</g>
<text class="wm" x="312.3" y="967" text-anchor="middle" textLength="153" lengthAdjust="spacingAndGlyphs">BRACELETBOOK.COM</text>
</g>
</svg>
